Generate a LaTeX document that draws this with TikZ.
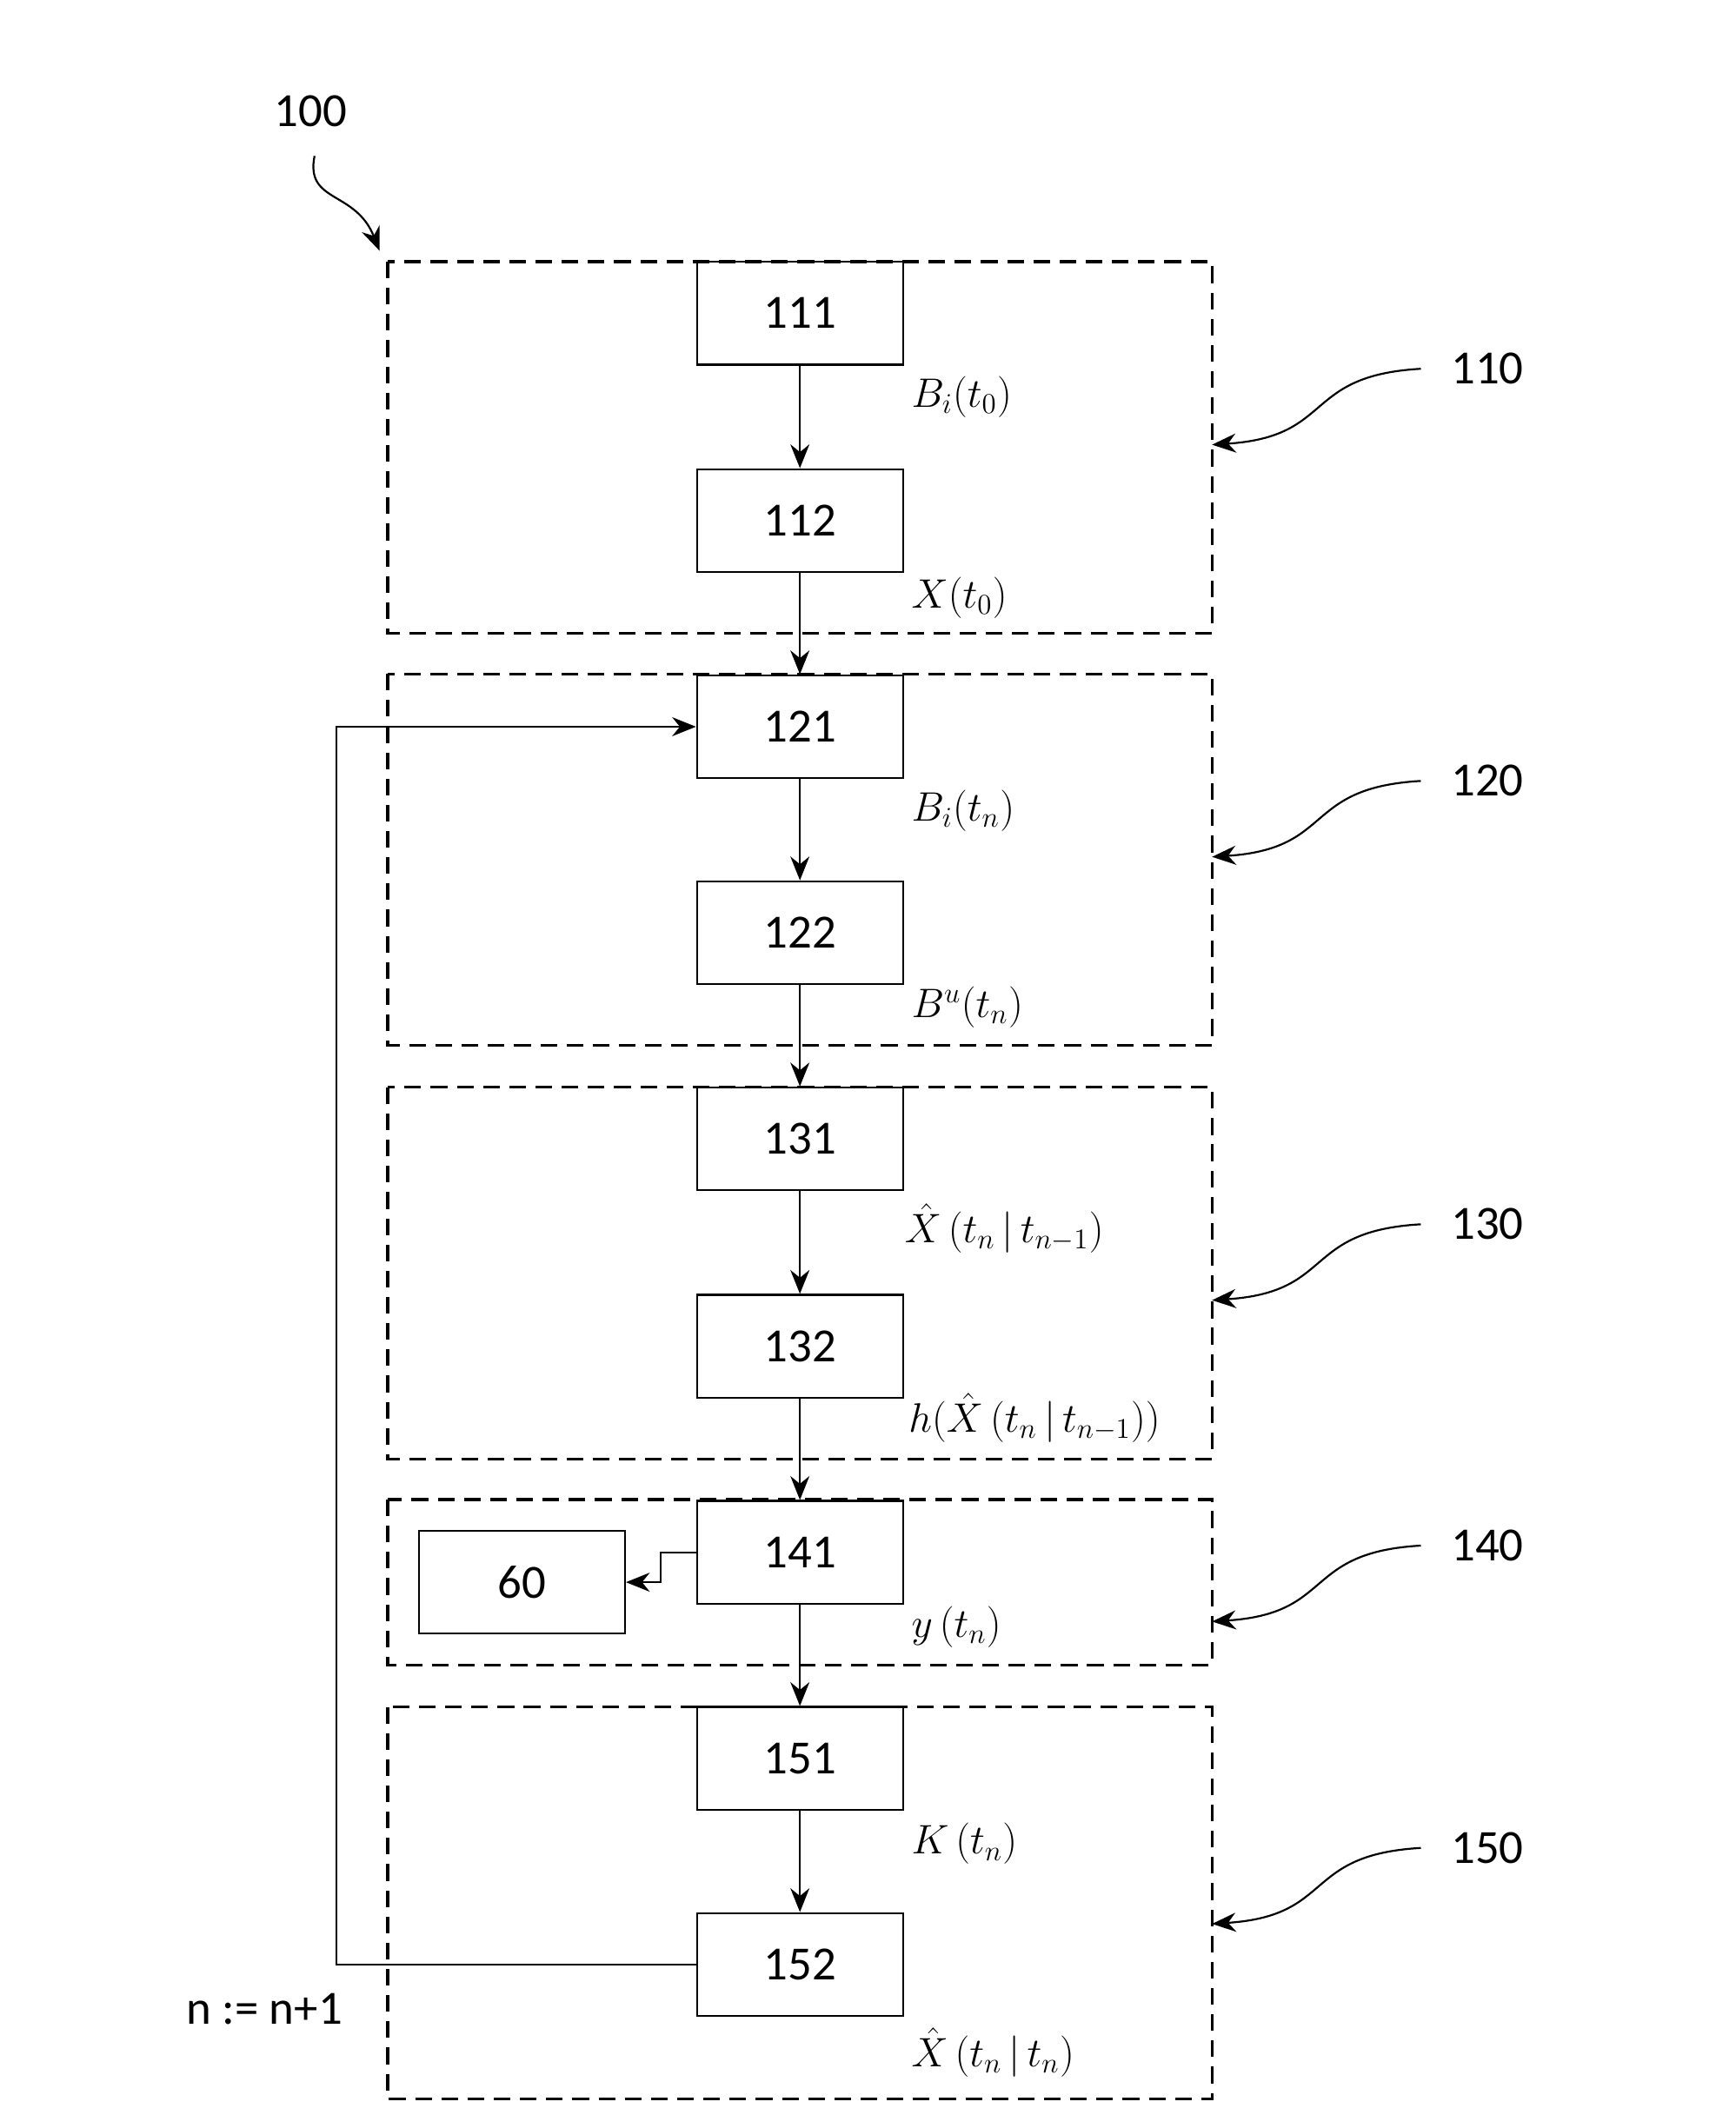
\documentclass[tikz,border=0pt]{standalone}
\usepackage{fontspec}
\setmainfont{Carlito}
\usetikzlibrary{arrows.meta}
\tikzset{
	blk/.style={draw, thick, minimum width=3.04cm, minimum height=1.52cm, inner sep=0pt, font=\fontsize{20}{24}\selectfont},
	grp/.style={draw, line width=1.2pt, dash pattern=on 7pt off 4pt},
	lbl/.style={anchor=west, inner sep=0pt, font=\fontsize{17}{21}\selectfont},
	num/.style={font=\fontsize{20}{24}\selectfont},
	flow/.style={-{Stealth[length=10pt,width=8pt]}, thick},
}
\begin{document}
\begin{tikzpicture}[x=0.02cm, y=-0.02cm]
	\useasboundingbox (0,0) rectangle (1280,1560);

	% dashed groups
	\draw[grp] (286,193) rectangle (894,467);
	\draw[grp] (286,497) rectangle (894,771);
	\draw[grp] (286,802) rectangle (894,1076);
	\draw[grp] (286,1106) rectangle (894,1228);
	\draw[grp] (286,1259) rectangle (894,1548);

	% blocks
	\node[blk] (b111) at (590,231) {111};
	\node[blk] (b112) at (590,384) {112};
	\node[blk] (b121) at (590,536) {121};
	\node[blk] (b122) at (590,688) {122};
	\node[blk] (b131) at (590,840) {131};
	\node[blk] (b132) at (590,993) {132};
	\node[blk] (b141) at (590,1145) {141};
	\node[blk] (b151) at (590,1297) {151};
	\node[blk] (b152) at (590,1449) {152};
	\node[blk] (b60) at (385,1167) {60};

	\draw[flow] (b111) -- (b112);
	\draw[flow] (b112) -- (b121);
	\draw[flow] (b121) -- (b122);
	\draw[flow] (b122) -- (b131);
	\draw[flow] (b131) -- (b132);
	\draw[flow] (b132) -- (b141);
	\draw[flow] (b141) -- (b151);
	\draw[flow] (b151) -- (b152);
	\draw[flow] (b141.west) -- ++(-26,0) |- (b60.east);
	\draw[flow] (b152.west) -- (248,1449) |- (b121.west);

	% signals
	\node[lbl] (s1) at (672,293) {$B_i(t_0)$};
	\node[lbl] (s2) at (672,441) {$X(t_0)$};
	\node[lbl] (s3) at (672,598) {$B_i(t_n)$};
	\node[lbl] (s4) at (672,743) {$B^u(t_n)$};
	\node[lbl] (s5) at (667,906) {$\hat X\left(t_n\,|\,t_{n-1}\right)$};
	\node[lbl] (s6) at (670,1046) {$h(\hat X\left(t_n\,|\,t_{n-1}\right))$};
	\node[lbl] (s7) at (672,1200) {$y\left(t_n\right)$};
	\node[lbl] (s8) at (672,1360) {$K\left(t_n\right)$};
	\node[lbl] (s9) at (672,1514) {$\hat X\left(t_n\,|\,t_n\right)$};

	% reference numerals
	\node[num] (r100) at (229,82) {100};
	\draw[flow] (232,115) .. controls (225,150) and (262,140) .. (280,185);
	\foreach \n/\y in {110/272, 120/576, 130/903, 140/1140, 150/1363} {
		\node[num] (r\n) at (1097,\y) {\n};
		\draw[flow] (1048,\y) .. controls (960,\y+5) and (985,\y+50) .. (894,\y+56);
	}
	\node[num] (loop) at (195,1482) {n := n+1};
\end{tikzpicture}
\end{document}
